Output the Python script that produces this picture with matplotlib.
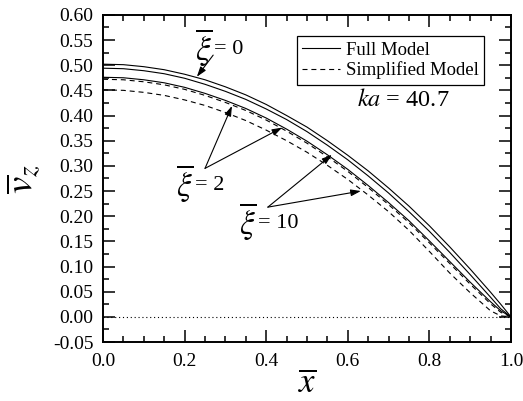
import numpy as np
import matplotlib
matplotlib.use('Agg')
import matplotlib.pyplot as plt
from matplotlib.ticker import MultipleLocator, FormatStrFormatter

plt.rcParams['font.family'] = 'serif'
plt.rcParams['font.serif'] = ['Liberation Serif', 'DejaVu Serif']
plt.rcParams['mathtext.fontset'] = 'stix'
plt.rcParams['axes.unicode_minus'] = False

# Velocity profiles across the half channel
x = [0.0, 0.05, 0.10, 0.15, 0.20, 0.25, 0.30, 0.35, 0.40, 0.45, 0.50,
     0.55, 0.60, 0.65, 0.70, 0.75, 0.80, 0.85, 0.90, 0.95, 0.975, 1.0]

full_xi0 = [0.502, 0.501, 0.497, 0.491, 0.482, 0.471, 0.457, 0.441, 0.422, 0.400, 0.377,
            0.350, 0.321, 0.290, 0.256, 0.220, 0.181, 0.139, 0.095, 0.049, 0.025, 0.0]
full_xi2 = [0.494, 0.493, 0.489, 0.483, 0.474, 0.462, 0.448, 0.432, 0.413, 0.392, 0.368,
            0.341, 0.312, 0.280, 0.246, 0.209, 0.170, 0.128, 0.084, 0.039, 0.016, 0.0]
full_xi10 = [0.476, 0.475, 0.471, 0.465, 0.456, 0.444, 0.430, 0.414, 0.395, 0.373, 0.349,
             0.322, 0.293, 0.261, 0.227, 0.191, 0.151, 0.110, 0.069, 0.030, 0.012, 0.0]
simp_xi2 = [0.472, 0.471, 0.467, 0.461, 0.452, 0.440, 0.426, 0.410, 0.391, 0.369, 0.345,
            0.318, 0.289, 0.257, 0.223, 0.187, 0.147, 0.106, 0.065, 0.026, 0.009, 0.0]
simp_xi10 = [0.451, 0.450, 0.446, 0.440, 0.431, 0.420, 0.406, 0.390, 0.371, 0.350, 0.327,
             0.301, 0.273, 0.242, 0.209, 0.172, 0.130, 0.087, 0.048, 0.012, 0.002, 0.0]

xi_values = ['0', '2', '10']

dash = (0, (4.5, 3.5))

fig = plt.figure(figsize=(5.23, 4.01), dpi=100)
ax = fig.add_axes([0.197, 0.147, 0.780, 0.816])

ax.plot(x, full_xi0, color='black', lw=0.8, label='Full Model')
ax.plot(x, full_xi2, color='black', lw=0.8)
ax.plot(x, full_xi10, color='black', lw=0.8)
ax.plot(x, simp_xi2, color='black', lw=0.8, linestyle=dash, label='Simplified Model')
ax.plot(x, simp_xi10, color='black', lw=0.8, linestyle=dash)
ax.axhline(0.0, color='black', lw=0.8, linestyle=(0, (1, 2.5)))

ax.set_xlim(0.0, 1.0)
ax.set_ylim(-0.05, 0.60)
ax.xaxis.set_major_locator(MultipleLocator(0.2))
ax.xaxis.set_minor_locator(MultipleLocator(0.05))
ax.yaxis.set_major_locator(MultipleLocator(0.05))
ax.yaxis.set_minor_locator(MultipleLocator(0.025))
ax.xaxis.set_major_formatter(FormatStrFormatter('%.1f'))
ax.yaxis.set_major_formatter(FormatStrFormatter('%.2f'))

ax.tick_params(which='both', direction='in', top=True, right=True, width=1.1)
ax.tick_params(which='major', length=8.5, labelsize=14)
ax.tick_params(axis='x', which='major', pad=8)
ax.tick_params(axis='y', which='major', pad=7)
ax.tick_params(which='minor', length=4.5)
for s in ax.spines.values():
    s.set_linewidth(1.4)

ax.set_xlabel(r'$\overline{x}$', fontsize=25, labelpad=-2)
ax.set_ylabel(r'$\overline{v}_z$', fontsize=28, labelpad=6)

leg = ax.legend(loc='upper right', bbox_to_anchor=(0.934, 0.936), borderaxespad=0,
                fontsize=13.5, fancybox=False, edgecolor='black', framealpha=1,
                handlelength=2.0, handletextpad=0.3, labelspacing=0.15, borderpad=0.3)
leg.get_frame().set_linewidth(0.9)

ax.text(0.735, 0.431, r'$ka$ = 40.7', fontsize=17.5, ha='center', va='center')

arrow = dict(arrowstyle='-|>,head_length=0.6,head_width=0.2', color='black', lw=0.8,
             shrinkA=0, shrinkB=0)


def xi_label(xj, yc, val):
    # big overlined xi followed by the value in regular text
    ax.text(xj, yc, r'$\overline{\xi}$', fontsize=24, ha='right', va='center')
    ax.text(xj + 0.004, yc - 0.004, '= ' + val, fontsize=16, ha='left', va='center')


xi_label(0.268, 0.536, xi_values[0])
ax.annotate('', xy=(0.230, 0.477), xytext=(0.270, 0.520), arrowprops=arrow)

xi_label(0.222, 0.265, xi_values[1])
for tip in [(0.316, 0.419), (0.439, 0.376)]:
    ax.annotate('', xy=tip, xytext=(0.250, 0.295), arrowprops=arrow)

xi_label(0.375, 0.190, xi_values[2])
for tip in [(0.561, 0.322), (0.632, 0.250)]:
    ax.annotate('', xy=tip, xytext=(0.404, 0.218), arrowprops=arrow)

fig.savefig('out.png', dpi=100)
